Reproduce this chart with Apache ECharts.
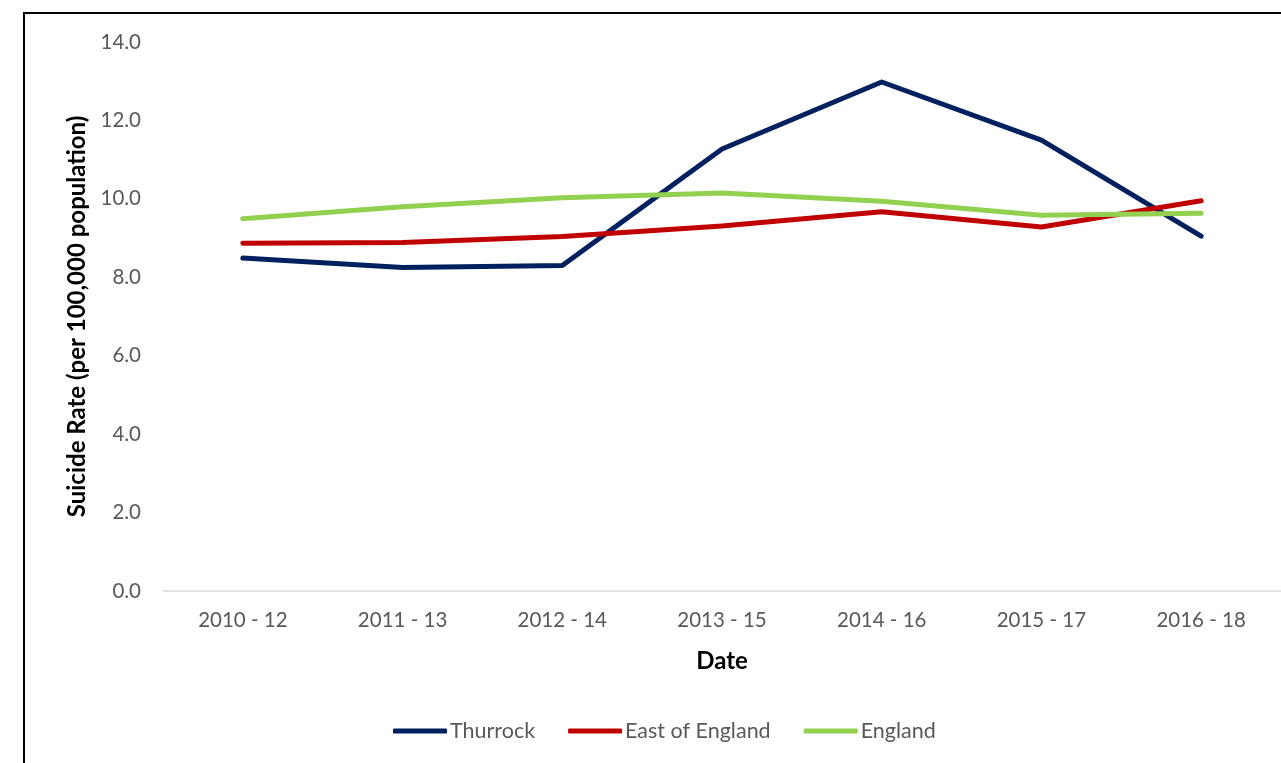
<!DOCTYPE html>
<html>
<head>
<meta charset="utf-8">
<script src="https://cdn.jsdelivr.net/npm/echarts@6/dist/echarts.min.js"></script>
<style>
  html, body { margin: 0; padding: 0; background: #ffffff; }
  #chart { width: 1281px; height: 763px; }
</style>
</head>
<body>
<div id="chart"></div>
<script>
// Three-year rolling periods
const periods = ['2010 - 12', '2011 - 13', '2012 - 14', '2013 - 15', '2014 - 16', '2015 - 17', '2016 - 18'];

// Suicide rate per 100,000 population
const thurrock      = [8.49, 8.25, 8.30, 11.27, 12.98, 11.50, 9.05];
const eastOfEngland = [8.87, 8.89, 9.04, 9.31, 9.67, 9.28, 9.95];
const england       = [9.49, 9.80, 10.03, 10.15, 9.94, 9.58, 9.63];

const yTicks = { min: 0, max: 14, interval: 2 };

const FONT = 'Lato';
const TEXT = '#595959';

const chart = echarts.init(document.getElementById('chart'), null, { renderer: 'canvas' });

function lineSeries(name, data, color) {
  return {
    name: name,
    type: 'line',
    data: data,
    symbol: 'none',
    smooth: false,
    lineStyle: { color: color, width: 5, cap: 'round', join: 'round' },
    itemStyle: { color: color },
    emphasis: { disabled: true }
  };
}

chart.setOption({
  animation: false,
  backgroundColor: '#ffffff',
  graphic: [{
    type: 'rect',
    shape: { x: 24, y: 13, width: 1400, height: 900 },
    style: { fill: 'none', stroke: '#000000', lineWidth: 2 },
    silent: true,
    z: 100
  }],
  grid: { left: 163, right: 0, top: 42, bottom: 172, containLabel: false },
  legend: {
    top: 715,
    left: 388,
    icon: 'roundRect',
    itemWidth: 54,
    itemHeight: 5,
    itemGap: 33,
    textStyle: { color: TEXT, fontFamily: FONT, fontSize: 21.5, padding: [0, 0, 0, -2] },
    data: ['Thurrock', 'East of England', 'England']
  },
  xAxis: {
    type: 'category',
    data: periods,
    boundaryGap: true,
    name: 'Date',
    nameLocation: 'middle',
    nameGap: 58,
    nameTextStyle: { color: '#000000', fontFamily: FONT, fontSize: 24, fontWeight: 'bold' },
    axisLine: { show: true, lineStyle: { color: '#d9d9d9', width: 1.5 } },
    axisTick: { show: false },
    axisLabel: { color: TEXT, fontFamily: FONT, fontSize: 20.5, margin: 19 },
    splitLine: { show: false }
  },
  yAxis: {
    type: 'value',
    min: yTicks.min,
    max: yTicks.max,
    interval: yTicks.interval,
    name: 'Suicide Rate (per 100,000 population)',
    nameLocation: 'middle',
    nameGap: 74,
    nameTextStyle: { color: '#000000', fontFamily: FONT, fontSize: 24, fontWeight: 'bold' },
    axisLine: { show: false },
    axisTick: { show: false },
    axisLabel: {
      color: TEXT, fontFamily: FONT, fontSize: 20.5, margin: 22,
      formatter: v => v.toFixed(1)
    },
    splitLine: { show: false }
  },
  series: [
    lineSeries('Thurrock', thurrock, '#002060'),
    lineSeries('East of England', eastOfEngland, '#C00000'),
    lineSeries('England', england, '#92D050')
  ]
});
</script>
</body>
</html>
